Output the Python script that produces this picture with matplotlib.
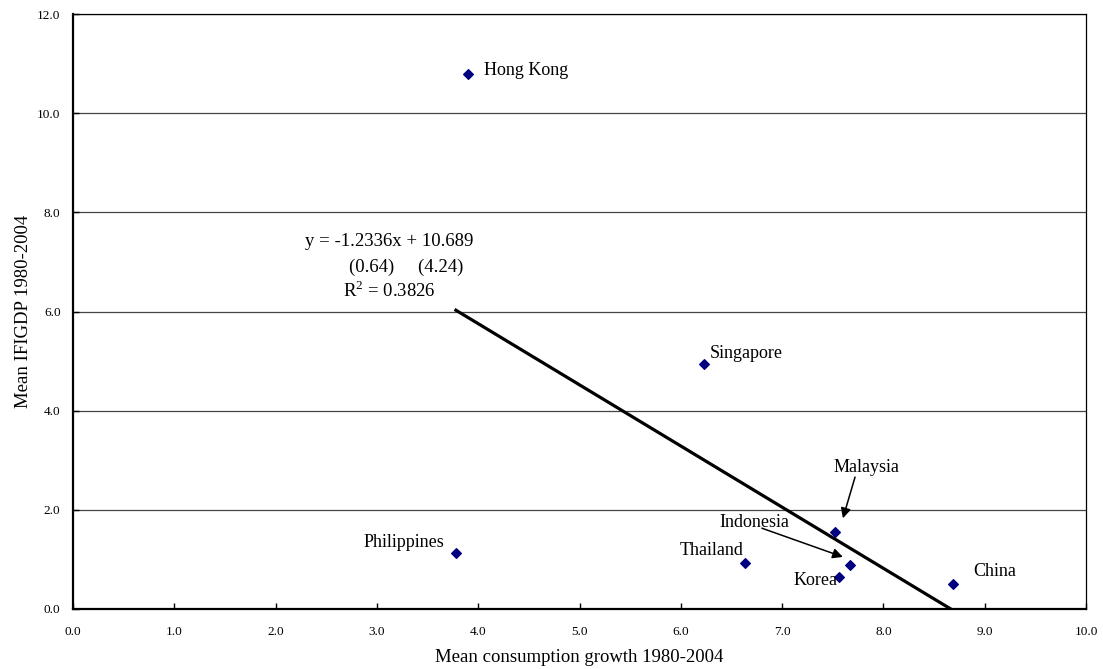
import numpy as np
import matplotlib
matplotlib.use("Agg")
import matplotlib.pyplot as plt

plt.rcParams['font.family'] = ['Liberation Serif', 'DejaVu Serif']
plt.rcParams['mathtext.fontset'] = 'custom'
plt.rcParams['mathtext.rm'] = 'Liberation Serif'

# data
countries = ['Hong Kong', 'Singapore', 'Philippines', 'Thailand',
             'Malaysia', 'Indonesia', 'Korea', 'China']
cons_growth = [3.90, 6.23, 3.78, 6.63, 7.52, 7.67, 7.56, 8.69]
ifigdp = [10.79, 4.94, 1.13, 0.93, 1.55, 0.89, 0.65, 0.50]

slope = -1.2336
intercept = 10.689

fig = plt.figure(figsize=(11.03, 6.69), dpi=100)
ax = fig.add_axes([0.0662, 0.0897, 0.9184, 0.8893])

ax.set_xlim(0, 10)
ax.set_ylim(0, 12)
xt = np.arange(0, 10.1, 1.0)
yt = np.arange(0, 12.1, 2.0)
ax.set_xticks(xt)
ax.set_yticks(yt)
ax.set_xticklabels(['%.1f' % v for v in xt], fontsize=9.5)
ax.set_yticklabels(['%.1f' % v for v in yt], fontsize=9.5)
ax.tick_params(direction='in', length=4, width=1)
ax.tick_params(axis='x', pad=12)
ax.tick_params(axis='y', pad=9)
ax.yaxis.grid(True, color='#444444', linewidth=0.9)
ax.set_axisbelow(True)
for s in ['left', 'bottom']:
    ax.spines[s].set_linewidth(1.6)
for s in ['top', 'right']:
    ax.spines[s].set_linewidth(0.9)

# trendline
xs = np.array([min(cons_growth), 10])
ax.plot(xs, slope * xs + intercept, color='black', linewidth=2.3, zorder=2)

ax.scatter(cons_growth, ifigdp, marker='D', s=24, color='#000080', zorder=3)

fs = 13
ax.text(4.06, 10.87, 'Hong Kong', fontsize=fs, va='center', ha='left')
ax.text(6.29, 4.98, 'Singapore', fontsize=fs, va='bottom', ha='left')
ax.text(3.66, 1.35, 'Philippines', fontsize=fs, va='center', ha='right')
ax.text(6.62, 1.17, 'Thailand', fontsize=fs, va='center', ha='right')
ax.text(7.33, 0.58, 'Korea', fontsize=fs, va='center', ha='center')
ax.text(9.10, 0.75, 'China', fontsize=fs, va='center', ha='center')
ax.text(7.83, 2.86, 'Malaysia', fontsize=fs, va='center', ha='center')
ax.text(6.73, 1.75, 'Indonesia', fontsize=fs, va='center', ha='center')

arrow = dict(arrowstyle='-|>', color='black', lw=1.1,
             shrinkA=0, shrinkB=0, mutation_scale=15)
ax.annotate('', xy=(7.60, 1.83), xytext=(7.72, 2.66), arrowprops=arrow)
ax.annotate('', xy=(7.60, 1.05), xytext=(6.80, 1.63), arrowprops=arrow)

ax.text(2.29, 7.42, 'y = -1.2336x + 10.689', fontsize=13.5, va='center', ha='left')
ax.text(2.72, 6.90, '(0.64)     (4.24)', fontsize=13.5, va='center', ha='left')
ax.text(2.67, 6.42, 'R$^2$ = 0.3826', fontsize=13.5, va='center', ha='left')

ax.set_xlabel('Mean consumption growth 1980-2004', fontsize=13.5, labelpad=8)
ax.set_ylabel('Mean IFIGDP 1980-2004', fontsize=13.5, labelpad=4)

fig.savefig('out.png', dpi=100)
